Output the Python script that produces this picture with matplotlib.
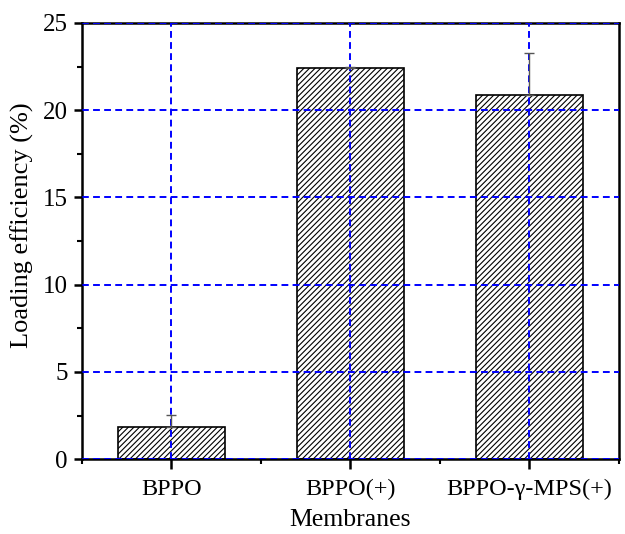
import numpy as np
import matplotlib.pyplot as plt
from matplotlib.ticker import MultipleLocator

categories = ["BPPO", "BPPO(+)", "BPPO-\u03b3-MPS(+)"]
values = [1.85, 22.4, 20.9]
errors = [0.7, 0.1, 2.4]

plt.rcParams["font.family"] = ["Liberation Serif", "DejaVu Serif"]
plt.rcParams["hatch.color"] = "#555555"
plt.rcParams["hatch.linewidth"] = 0.8

fig, ax = plt.subplots(figsize=(6.25, 5.34), dpi=100)
fig.subplots_adjust(left=0.131, right=0.990, top=0.957, bottom=0.140)

x = np.arange(1, len(categories) + 1)
ax.bar(x, values, width=0.6, color="white", edgecolor="black", linewidth=1.2,
       hatch="//////", zorder=2)
# only the upper half of the error bar is drawn
ax.errorbar(x, values, yerr=[np.zeros(len(errors)), errors], fmt="none",
            ecolor="#555555", elinewidth=1, capsize=3.5, capthick=1, zorder=3)

ax.set_xlim(0.5, 3.5)
ax.set_ylim(0, 25)
ax.set_xticks(x)
ax.set_xticklabels(categories)
ax.xaxis.set_minor_locator(MultipleLocator(0.5))
ax.yaxis.set_major_locator(MultipleLocator(5))
ax.yaxis.set_minor_locator(MultipleLocator(2.5))

ax.grid(True, which="major", color="blue", linestyle=(0, (3.5, 2.2)), linewidth=1.4, zorder=4)
ax.set_axisbelow(False)

for s in ax.spines.values():
    s.set_linewidth(1.8)
ax.tick_params(axis="y", which="major", direction="out", length=6, width=1.8, labelsize=18, pad=4)
ax.tick_params(axis="x", which="major", direction="out", length=7, width=1.8, labelsize=17.5, pad=7)
ax.tick_params(which="minor", direction="out", length=3.5, width=1.5)
ax.tick_params(top=False, right=False, which="both")

ax.set_xlabel("Membranes", fontsize=18.5)
ax.set_ylabel("Loading efficiency (%)", fontsize=19)
ax.xaxis.set_label_coords(0.5, -0.115)
ax.yaxis.set_label_coords(-0.09, 0.537)

fig.savefig("out.png", dpi=100)
